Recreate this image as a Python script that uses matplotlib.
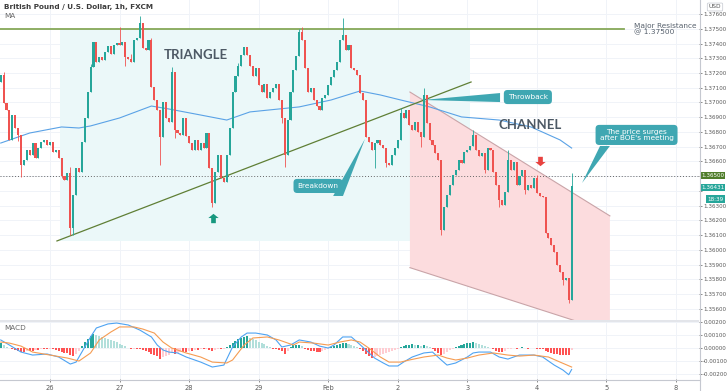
import numpy as np
import matplotlib.pyplot as plt
from matplotlib.patches import Polygon, Rectangle
from matplotlib.path import Path
from matplotlib.lines import Line2D

W, H = 728, 391

# ---- hourly GBP/USD candles, bar index 7..204 (bar 24 = Jan 26 00:00) ----
first_bar = 7
first_open = 1.37139
closes = [
    1.37186, 1.36997, 1.36949, 1.36746, 1.36915, 1.36827, 1.36780, 1.36576, 1.36610, 1.36678,
    1.36644, 1.36725, 1.36624, 1.36691, 1.36732, 1.36746, 1.36712, 1.36732, 1.36664, 1.36678,
    1.36624, 1.36502, 1.36475, 1.36522, 1.36149, 1.36373, 1.36556, 1.36529, 1.36732, 1.36895,
    1.37071, 1.37241, 1.37410, 1.37275, 1.37309, 1.37288, 1.37342, 1.37383, 1.37329, 1.37390,
    1.37403, 1.37390, 1.37410, 1.37309, 1.37295, 1.37275, 1.37424, 1.37437, 1.37539, 1.37370,
    1.37356, 1.37424, 1.37105, 1.37017, 1.36949, 1.36766, 1.37003, 1.36895, 1.36868, 1.37207,
    1.36814, 1.36793, 1.36780, 1.36895, 1.36773, 1.36725, 1.36678, 1.36746, 1.36678, 1.36725,
    1.36691, 1.36793, 1.36556, 1.36319, 1.36529, 1.36644, 1.36488, 1.36461, 1.36644, 1.36827,
    1.37071, 1.37180, 1.37248, 1.37322, 1.37376, 1.37322, 1.37248, 1.37180, 1.37234, 1.37119,
    1.37071, 1.37126, 1.37031, 1.37071, 1.37098, 1.37126, 1.37017, 1.36895, 1.36644, 1.36881,
    1.37071, 1.37220, 1.37315, 1.37478, 1.37424, 1.37234, 1.37071, 1.37098, 1.37017, 1.36976,
    1.36949, 1.37031, 1.37051, 1.37119, 1.37173, 1.37220, 1.37275, 1.37424, 1.37458, 1.37356,
    1.37390, 1.37234, 1.37220, 1.37186, 1.37064, 1.37017, 1.36766, 1.36732, 1.36678, 1.36725,
    1.36746, 1.36712, 1.36691, 1.36590, 1.36576, 1.36644, 1.36691, 1.36746, 1.36929, 1.36895,
    1.36949, 1.36847, 1.36814, 1.36868, 1.36800, 1.36766, 1.37051, 1.36861, 1.36746, 1.36712,
    1.36658, 1.36610, 1.36136, 1.36292, 1.36373, 1.36441, 1.36508, 1.36542, 1.36610, 1.36590,
    1.36664, 1.36678, 1.36705, 1.36780, 1.36678, 1.36637, 1.36658, 1.36542, 1.36691, 1.36678,
    1.36529, 1.36441, 1.36339, 1.36305, 1.36393, 1.36610, 1.36542, 1.36597, 1.36441, 1.36502,
    1.36542, 1.36407, 1.36441, 1.36420, 1.36488, 1.36386, 1.36366, 1.36359, 1.36115, 1.36081,
    1.36034, 1.35986, 1.35898, 1.35851, 1.35797, 1.35810, 1.35661, 1.36431,
]
spike_highs = {8: 1.37210, 31: 1.36560, 38: 1.37260, 48: 1.37512, 52: 1.37330, 55: 1.37587,
               59: 1.37440, 66: 1.37240, 89: 1.37270, 110: 1.37500, 111: 1.37510,
               125: 1.37573, 145: 1.36960, 153: 1.37098, 170: 1.36814, 182: 1.36678,
               192: 1.36508, 204: 1.36522}
spike_lows = {13: 1.36740, 14: 1.36495, 28: 1.36488, 31: 1.36102, 32: 1.36102, 50: 1.37250,
              62: 1.36576, 67: 1.36760, 80: 1.36292, 104: 1.36860, 105: 1.36563,
              136: 1.36556, 140: 1.36560, 152: 1.36698, 159: 1.36102, 174: 1.36520,
              179: 1.36292, 188: 1.36380, 201: 1.35760, 203: 1.35641}

# moving average, read at sample bars
ma_bars = [7, 17, 28, 34, 38, 48, 59, 65, 76, 85, 93, 103, 110, 121, 131, 138, 145, 155, 166,
           179, 190, 200, 204]
ma_vals = [1.36725, 1.36793, 1.36834, 1.36827, 1.36841, 1.36895, 1.36976, 1.36956, 1.36915,
           1.36881, 1.36936, 1.36956, 1.36970, 1.37017, 1.37078, 1.37051, 1.37017, 1.36970,
           1.36902, 1.36881, 1.36834, 1.36746, 1.36691]

# MACD pane (values in 1e-4)
macd_bars = [7, 10, 14, 18, 23, 27, 31, 33, 35, 38, 40, 44, 47, 51, 55, 59, 61, 63, 65, 68, 71,
             76, 80, 84, 87, 90, 92, 95, 99, 102, 104, 107, 110, 114, 117, 120, 122, 125, 128,
             130, 133, 136, 139, 141, 144, 146, 149, 153, 156, 159, 161, 164, 168, 170, 172,
             176, 179, 182, 184, 186, 191, 194, 198, 201, 203, 204]
macd_vals = [6.2, 2.3, -3.1, -5.4, -4.6, -6.9, -12.3, -10.8, -3.1, 8.5, 15.4, 18.5, 19.2, 17.7,
             13.8, 8.5, 2.3, -1.5, -3.1, -3.8, -6.9, -10.8, -14.6, -13.1, 0.8, 8.5, 11.5, 11.5,
             10.0, 6.2, 0.8, 2.3, 6.2, 4.6, 1.5, 0.0, 2.3, 8.5, 8.5, 4.6, -1.5, -7.7, -11.5,
             -13.8, -13.8, -10.8, -6.9, -3.8, -3.1, -9.2, -13.1, -11.5, -6.9, -3.8, -3.1, -3.1,
             -6.9, -8.5, -6.9, -5.4, -5.4, -6.9, -13.1, -16.9, -20.5, -16.5]
signal_bars = [7, 10, 14, 18, 24, 30, 34, 38, 41, 45, 48, 53, 56, 60, 63, 66, 71, 76, 80, 85,
               87, 91, 94, 99, 103, 108, 110, 115, 120, 124, 128, 131, 134, 138, 141, 145, 148,
               153, 158, 161, 164, 168, 172, 177, 182, 186, 191, 196, 200, 204]
signal_vals = [4.6, 3.8, 1.5, -3.1, -5.4, -7.7, -10.0, -3.8, 6.2, 12.3, 16.2, 16.2, 14.6, 11.5,
               4.6, 0.0, -3.8, -6.9, -10.8, -11.5, -9.2, 2.3, 7.7, 8.5, 6.2, 2.3, 4.6, 3.8, 2.3,
               4.6, 6.2, 4.6, 0.0, -6.9, -10.8, -10.8, -9.2, -6.9, -5.4, -7.7, -9.2, -7.7, -5.4,
               -3.8, -5.4, -6.2, -5.4, -6.9, -10.8, -14.6]
hist_vals = [
    3.8, 2.3, 0.8, 0.4, -0.8, -1.5, -2.3, -3.1, -3.1, -2.3, -2.3, -2.3, -1.5, -1.5, -0.8, -0.8,
    -0.8, -0.4, -0.8, -1.5, -2.3, -3.1, -3.8, -3.8, -5.4, -6.2, -4.6, -2.3, 1.5, 4.6, 6.9, 9.2,
    10.8, 10.0, 9.2, 8.5, 7.7, 6.9, 6.2, 5.4, 4.6, 3.1, 2.3, 1.5, 0.4, -0.8, -0.4, -0.4, -0.4,
    -1.5, -2.3, -3.1, -4.6, -5.4, -6.2, -8.5, -6.9, -6.2, -5.4, -3.8, -4.6, -3.8, -3.1, -3.1,
    -3.1, -2.3, -2.3, -1.5, -1.5, -0.8, -0.8, -0.4, -1.5, -2.3, -1.5, -0.8, -0.8, -0.4, 0.8, 2.3,
    3.8, 5.4, 6.9, 7.7, 8.5, 9.2, 7.7, 6.9, 6.2, 4.6, 3.8, 3.1, 1.5, 0.8, -0.8, -0.8, -1.5, -2.3,
    -4.6, -2.3, 0.8, 2.3, 2.3, 2.3, 1.5, -0.8, -1.5, -2.3, -2.3, -3.1, -3.1, -2.3, -1.5, -0.8,
    0.8, 1.5, 2.3, 3.1, 3.8, 3.8, 3.1, 2.3, 1.5, 0.8, -0.8, -2.3, -4.6, -6.2, -7.7, -6.9, -6.2,
    -5.4, -4.6, -3.8, -3.1, -2.3, -1.5, -0.8, 0.8, 1.5, 2.3, 2.3, 3.1, 2.3, 2.3, 1.5, 2.3, 1.5,
    0.8, -0.8, -2.3, -3.8, -5.4, -4.6, -3.1, -1.5, -0.8, 0.8, 1.5, 2.3, 3.1, 3.8, 3.8, 4.6, 3.8,
    3.1, 2.3, 1.5, 0.8, 0.4, -0.8, -2.3, -3.1, -3.1, -2.3, -0.8, -0.4, 0.4, -0.4, 0.4, 0.8, 0.4,
    -0.4, 0.4, 0.4, -0.4, -0.8, -0.8, -2.3, -3.1, -3.8, -4.6, -4.6, -5.4, -5.4, -5.4, -5.4, -1.5,
]

day_bars = [24, 48, 72, 96, 120, 144, 168, 192, 216, 240]
day_labels = ["26", "27", "28", "29", "Feb", "2", "3", "4", "5", "8"]
price_ticks = [1.356, 1.357, 1.358, 1.359, 1.360, 1.361, 1.362, 1.363, 1.364, 1.365, 1.366,
               1.367, 1.368, 1.369, 1.370, 1.371, 1.372, 1.373, 1.374, 1.375, 1.376]
macd_ticks = [0.002, 0.001, 0.0, -0.001, -0.002]

resistance = 1.375
watch_level = 1.365
last_price = 1.36431

UP, DOWN = "#26a69a", "#ef5350"
TEAL_BOX = "#3fa7b2"
GRID = "#f0f3f8"

fig = plt.figure(figsize=(W / 100, H / 100), dpi=100)
ax = fig.add_axes([0, 1 - 320 / H, 699 / W, 320 / H])
axm = fig.add_axes([0, 1 - 379 / H, 699 / W, 57 / H], sharex=ax)

ax.set_xlim(6.75, 247.95)
ax.set_ylim(1.35525, 1.37695)
axm.set_ylim(-0.00238, 0.0020)

for a in (ax, axm):
    for s in a.spines.values():
        s.set_visible(False)
    a.set_facecolor("white")
    for b in day_bars:
        a.axvline(b, color=GRID, lw=0.7, zorder=0)

for p in price_ticks:
    ax.axhline(p, color=GRID, lw=0.7, zorder=0)
for p in macd_ticks:
    axm.axhline(p, color=GRID, lw=0.7, zorder=0)

# ---- drawings behind price ----
ax.add_patch(Rectangle((27.45, 1.36061), 168.9 - 27.45, resistance - 1.36061,
                       fc="#ebf8f9", ec="none", zorder=0.5))
ax.add_patch(Polygon([(148.2, 1.37071), (217.2, 1.36231), (217.2, 1.35444), (148.2, 1.35880)],
                     closed=True, fc="#fcdcde", ec="none", zorder=0.6))
ax.plot([148.2, 217.2], [1.37071, 1.36231], color="#c9a4a8", lw=0.8, zorder=1)
ax.plot([148.2, 217.2], [1.35880, 1.35444], color="#c9a4a8", lw=0.8, zorder=1)

ax.plot([6.75, 222.1], [resistance, resistance], color="#86a858", lw=1.3, zorder=1)
ax.axhline(watch_level, color="#666666", lw=0.7, ls=(0, (1, 2)), zorder=1)
ax.plot([26.4, 169.3], [1.36061, 1.37139], color="#5f7f35", lw=0.9, zorder=3)

ax.plot(ma_bars, ma_vals, color="#5aa2e6", lw=0.8, zorder=2)

# ---- candles ----
bars = np.arange(first_bar, first_bar + len(closes))
opens = [first_open] + closes[:-1]
for b, o, c in zip(bars, opens, closes):
    col = UP if c >= o else DOWN
    hi = spike_highs.get(b, max(o, c))
    lo = spike_lows.get(b, min(o, c))
    ax.vlines(b, lo, hi, color=col, lw=0.6, zorder=4)
    ax.bar(b, max(abs(c - o), 0.00004), bottom=min(o, c), width=0.72, color=col,
           lw=0, zorder=5)

# arrows
up_arrow = Path([(-0.25, -0.5), (0.25, -0.5), (0.25, 0.05), (0.55, 0.05), (0, 0.5),
                 (-0.55, 0.05), (-0.25, 0.05), (-0.25, -0.5)])
down_arrow = Path([(x, -y) for x, y in up_arrow.vertices])
ax.scatter([80.2], [1.36217], marker=up_arrow, s=55, color="#17987f", lw=0, zorder=6)
ax.scatter([193], [1.36604], marker=down_arrow, s=55, color="#e8423f", lw=0, zorder=6)

# labels on the chart
ax.text(74.2, 1.37322, "TRIANGLE", fontsize=9.5, family="Lato", weight="bold",
        color="#4d5965", ha="center", va="center", zorder=6)
ax.text(189.8, 1.36848, "CHANNEL", fontsize=9.5, family="Lato", weight="bold",
        color="#4d5965", ha="center", va="center", zorder=6)
ax.text(225.5, resistance, "Major Resistance\n@ 1.37500", fontsize=5.3, color="#56606c",
        ha="left", va="center", linespacing=0.95, zorder=6)

bubble = dict(boxstyle="round,pad=0.55,rounding_size=0.5", fc=TEAL_BOX, ec="none")
ax.text(116.5, 1.36434, "Breakdown", fontsize=5.3, color="white", ha="center",
        va="center", bbox=bubble, zorder=7)
ax.add_patch(Polygon([(121.7, 1.36366), (125.1, 1.36366), (132.7, 1.36753)], closed=True,
                     fc=TEAL_BOX, ec="none", zorder=7))
ax.text(188.9, 1.37037, "Throwback", fontsize=5.3, color="white", ha="center",
        va="center", bbox=bubble, zorder=7)
ax.add_patch(Polygon([(179.3, 1.37064), (179.3, 1.37003), (152.7, 1.37017)], closed=True,
                     fc=TEAL_BOX, ec="none", zorder=7))
ax.text(226.4, 1.36780, "The price surges\nafter BOE's meeting", fontsize=5.3,
        color="white", ha="center", va="center", linespacing=1.0, bbox=bubble, zorder=7)
ax.add_patch(Polygon([(213.8, 1.36705), (217.2, 1.36705), (207.6, 1.36454)], closed=True,
                     fc=TEAL_BOX, ec="none", zorder=7))

# ---- MACD ----
hb = np.arange(first_bar, first_bar + len(hist_vals))
hv = np.array(hist_vals) * 1e-4
hcols = []
for k, v in enumerate(hv):
    prev = hv[k - 1] if k else v
    if v >= 0:
        hcols.append("#26a69a" if v >= prev else "#b2dfdb")
    else:
        hcols.append("#ff5252" if v <= prev else "#ffcdd2")
axm.bar(hb, hv, width=0.7, color=hcols, lw=0, zorder=2)
axm.plot(macd_bars, np.array(macd_vals) * 1e-4, color="#4ea3f2", lw=0.8, zorder=3)
axm.plot(signal_bars, np.array(signal_vals) * 1e-4, color="#f59c52", lw=0.8, zorder=3)

# ---- axes, ticks ----
# the badges cover the 1.365 / 1.364 scale labels, as on the platform
hidden = {1.365, 1.364}
ax.yaxis.tick_right()
ax.set_yticks(price_ticks)
ax.set_yticklabels(["" if p in hidden else f"{p:.5f}" for p in price_ticks])
axm.yaxis.tick_right()
axm.set_yticks(macd_ticks)
axm.set_yticklabels([f"{p:.5f}" for p in macd_ticks])
for a in (ax, axm):
    a.tick_params(axis="y", labelsize=4.1, colors="#5a5a5a", length=2, width=0.5, pad=1)
ax.tick_params(axis="x", bottom=False, labelbottom=False)
axm.set_xticks(day_bars)
axm.set_xticklabels(day_labels)
axm.tick_params(axis="x", labelsize=4.8, colors="#5a5a5a", length=2, width=0.5, pad=2)

# price-scale badges
yt = ax.get_yaxis_transform()
badge = dict(fontsize=4.1, color="white", va="center", ha="left", clip_on=False,
             transform=yt)
ax.text(1.003, watch_level + 0.00004, "1.36500",
        bbox=dict(boxstyle="square,pad=0.2", fc="#4f7d2b", ec="none"), **badge)
ax.text(1.003, last_price - 0.00006, "1.36431",
        bbox=dict(boxstyle="square,pad=0.2", fc="#26a69a", ec="none"), **badge)
ax.text(1.012, 1.36345, "18:39",
        bbox=dict(boxstyle="square,pad=0.2", fc="#26a69a", ec="none"), **badge)

# frame lines
fig.add_artist(Rectangle((0, 1 - 322 / H), 699 / W, 2.2 / H, transform=fig.transFigure,
                         fc="#e3e5ea", ec="none"))
fig.add_artist(Line2D([699.5 / W, 699.5 / W], [1 - 391 / H, 1], transform=fig.transFigure,
                      color="#c5c8d0", lw=0.8))
fig.add_artist(Line2D([0, 699.5 / W], [1 - 379.5 / H, 1 - 379.5 / H],
                      transform=fig.transFigure, color="#c5c8d0", lw=0.8))

fig.text(4 / W, 1 - 7 / H, "British Pound / U.S. Dollar, 1h, FXCM", fontsize=5.2,
         weight="bold", color="#3c3c3c", va="center")
fig.text(4 / W, 1 - 16 / H, "MA", fontsize=5.2, color="#666666", va="center")
fig.text(4 / W, 1 - 328 / H, "MACD", fontsize=5.2, color="#666666", va="center")
fig.text(715 / W, 1 - 7 / H, "USD", fontsize=4.2, color="#555555", va="center", ha="center",
         bbox=dict(boxstyle="round,pad=0.25,rounding_size=0.2", fc="white", ec="#c5c8d0",
                   lw=0.5))

fig.savefig("out.png", dpi=100)
